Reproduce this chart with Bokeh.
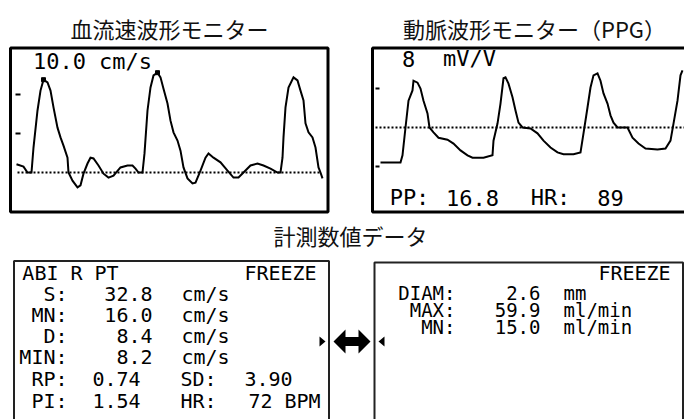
from bokeh.plotting import figure
from bokeh.models import Range1d, ColumnDataSource
from bokeh.core.properties import value
from bokeh.embed import file_html
from bokeh.resources import INLINE

# ---------------- data ----------------
flow_title = "血流速波形モニター"
ppg_title = "動脈波形モニター（PPG）"
data_title = "計測数値データ"

flow_scale = "10.0 cm/s"
# blood-flow velocity waveform: sample index, velocity (cm/s)
flow_t = [6, 13, 17, 21, 23, 27, 30, 33, 37, 40,
          43, 47, 50, 53, 57, 58, 62, 67, 70, 73,
          77, 80, 83, 88, 93, 98, 103, 110, 117, 122,
          125, 128, 132, 134, 137, 140, 143, 147, 150, 153,
          157, 160, 163, 167, 170, 173, 177, 182, 185, 190,
          195, 198, 203, 210, 217, 223, 228, 233, 240, 247,
          253, 260, 267, 270, 272, 273, 275, 278, 283, 287,
          290, 293, 295, 298, 302, 305, 308, 310, 312]
flow_v = [2.1, 1.5, 0, 0, 6.4, 15.9, 21.0, 23.8, 23.1, 21.0,
          16.7, 11.5, 9.0, 6.9, 3.8, 0.0, -2.1, -3.8, -3.3, -0.3,
          2.3, 3.8, 3.6, 1.8, -0.3, -1.3, -0.8, 1.3, 1.8, 1.8,
          1.0, 0, 0, 4.9, 15.9, 21.8, 24.9, 25.6, 24.4, 21.5,
          17.7, 13.3, 10.3, 8.2, 5.6, 1.3, -1.5, -2.8, -2.6, 0.5,
          3.8, 4.9, 3.8, 2.6, 0.5, -1.3, -1.3, 0, 1.8, 2.3,
          1.8, 1.0, 0, 0, 3.8, 9.0, 16.7, 21.8, 24.4, 23.6,
          21.0, 18.5, 12.6, 10.3, 9.0, 6.4, 1.3, 0, -1.5]
flow_ticks = [10, 20]
flow_peak_t = [33, 147]
flow_peak_v = [23.8, 25.6]

ppg_scale_num = "8"
ppg_scale_unit = "mV/V"
# PPG waveform: sample index, amplitude (mV/V)
ppg_t = [8, 28, 30, 33, 36, 40, 41, 45, 48, 51,
         55, 57, 61, 66, 75, 81, 88, 95, 100, 111,
         120, 121, 125, 128, 131, 133, 136, 140, 143, 146,
         150, 158, 165, 171, 178, 185, 191, 201, 208, 211,
         215, 218, 221, 225, 228, 231, 235, 238, 241, 245,
         255, 260, 266, 273, 285, 293, 298, 301, 305, 308,
         310]
ppg_v = [-7.2, -7.2, -5.7, 0, 5.5, 7.6, 9.6, 9.2, 8.0, 5.5,
         2.9, 0, -1.0, -2.1, -2.5, -3.3, -4.7, -5.7, -6.2, -6.2,
         -5.7, -2.7, 0.8, 4.9, 10.1, 10.3, 9.0, 6.2, 3.5, 1.0,
         0, -0.2, -1.2, -2.7, -4.1, -5.1, -5.5, -5.5, -5.1, -1.2,
         4.1, 8.2, 10.7, 11.1, 9.6, 7.0, 4.9, 2.5, 1.0, 0,
         0, -2.1, -3.3, -4.3, -4.5, -4.3, -2.7, 0.8, 5.5, 10.7,
         11.7]
ppg_ticks = [8, -8]
ppg_labels = ["PP:", "HR:"]
ppg_values = ["16.8", "89"]

abi_header = "ABI R PT"
freeze_text = "FREEZE"
vel_labels = ["S:", "MN:", "D:", "MIN:"]
vel_values = ["32.8", "16.0", "8.4", "8.2"]
vel_units = ["cm/s", "cm/s", "cm/s", "cm/s"]
idx_labels_a = ["RP:", "PI:"]
idx_values_a = ["0.74", "1.54"]
idx_labels_b = ["SD:", "HR:"]
idx_values_b = ["3.90", "72 BPM"]

vol_labels = ["DIAM:", "MAX:", "MN:"]
vol_values = ["2.6", "59.9", "15.0"]
vol_units = ["mm", "ml/min", "ml/min"]

# ---------------- layout / styles ----------------
PAGE_X0, PAGE_X1 = 0, 684
PAGE_Y0, PAGE_Y1 = 0, 419
JP = "Noto Sans CJK JP"
MONO = "DejaVu Sans Mono"
INK = "#000000"

p = figure(width=PAGE_X1 - PAGE_X0, height=PAGE_Y1 - PAGE_Y0,
           x_range=Range1d(PAGE_X0, PAGE_X1), y_range=Range1d(PAGE_Y1, PAGE_Y0),
           x_axis_type=None, y_axis_type=None, output_backend="svg",
           toolbar_location=None, min_border=0)
p.min_border_left = p.min_border_right = p.min_border_top = p.min_border_bottom = 0
p.grid.visible = False
p.outline_line_color = None
p.background_fill_color = "white"
p.border_fill_color = "white"


def panel_range(px_a, px_b, d_a, d_b, frame_start, frame_end):
    k = (d_b - d_a) / (px_b - px_a)
    return Range1d(start=d_a + (frame_start - px_a) * k, end=d_a + (frame_end - px_a) * k)


# panel scales (1 px per sample; 10 cm/s and 8 mV/V per 39 px division)
p.extra_x_ranges = {
    "flow_t": panel_range(10, 327, 0, 317, PAGE_X0, PAGE_X1),
    "ppg_t": panel_range(372, 672, 0, 300, PAGE_X0, PAGE_X1),
}
p.extra_y_ranges = {
    "flow_v": panel_range(172, 133, 0, 10, PAGE_Y1, PAGE_Y0),
    "ppg_v": panel_range(127, 88, 0, 8, PAGE_Y1, PAGE_Y0),
}


def txt(xs, ys, texts, font, size, align="left", color=INK):
    src = ColumnDataSource(dict(x=xs, y=ys, text=texts))
    p.text(x="x", y="y", text="text", source=src, text_font=value(font),
           text_font_size=size, text_align=align, text_baseline="middle",
           text_color=color)


# titles
txt([169, 534, 350], [27, 27, 234], [flow_title, ppg_title, data_title], JP, "22px", "center", "#111111")

# panel boxes
p.quad(left=[10, 372], right=[327.5, 700], top=[47.5, 47.5], bottom=[211.5, 211.5],
       fill_color=None, line_color=INK, line_width=3)
p.quad(left=[13.5, 374], right=[328.5, 682.5], top=[260.5, 262], bottom=[440, 440],
       fill_color=None, line_color="#222222", line_width=2)

# baselines (v = 0)
p.line(x=[17, 321], y=[0, 0], y_range_name="flow_v", line_color=INK, line_width=2, line_dash="2 2")
p.line(x=[375, 684], y=[0, 0], y_range_name="ppg_v", line_color=INK, line_width=2, line_dash="2 2")

# division ticks
p.segment(x0=[15] * len(flow_ticks), x1=[20] * len(flow_ticks), y0=flow_ticks, y1=flow_ticks,
          y_range_name="flow_v", line_color=INK, line_width=2)
p.segment(x0=[375] * len(ppg_ticks), x1=[379] * len(ppg_ticks), y0=ppg_ticks, y1=ppg_ticks,
          y_range_name="ppg_v", line_color=INK, line_width=2)

# waveforms
p.line(x=flow_t, y=flow_v, x_range_name="flow_t", y_range_name="flow_v",
       line_color=INK, line_width=2, line_join="miter")
p.scatter(x=flow_peak_t, y=flow_peak_v, x_range_name="flow_t", y_range_name="flow_v",
          marker="square", size=4, color=INK)
p.line(x=ppg_t, y=ppg_v, x_range_name="ppg_t", y_range_name="ppg_v",
       line_color=INK, line_width=2, line_join="miter")

# waveform panel texts
txt([92], [61], [flow_scale], MONO, "22px", "center")
txt([408, 469], [58, 58], [ppg_scale_num, ppg_scale_unit], MONO, "22px", "center")
txt([409, 472, 550, 610], [197] * 4,
    [ppg_labels[0], ppg_values[0], ppg_labels[1], ppg_values[1]], MONO, "22px", "center")

# lower-left data panel
rows = [293, 314, 335, 356]
txt([70], [272], [abi_header], MONO, "20px", "center")
txt([280], [272], [freeze_text], MONO, "20px", "center")
txt([67] * 4, rows, vel_labels, MONO, "20px", "right")
txt([152] * 4, rows, vel_values, MONO, "20px", "right")
txt([205] * 4, rows, vel_units, MONO, "20px", "center")
rows2 = [378, 400]
txt([67, 67], rows2, idx_labels_a, MONO, "20px", "right")
txt([116, 116], rows2, idx_values_a, MONO, "20px", "center")
txt([198, 198], rows2, idx_labels_b, MONO, "20px", "center")
txt([268, 284], rows2, idx_values_b, MONO, "20px", "center")

# lower-right data panel
rows3 = [292, 309, 326]
txt([634], [272], [freeze_text], MONO, "20px", "center")
txt([455] * 3, rows3, vol_labels, MONO, "19px", "right")
txt([540] * 3, rows3, vol_values, MONO, "19px", "right")
txt([563] * 3, rows3, vol_units, MONO, "19px", "left")

# link arrow and small pointers
p.patch(x=[333, 345, 345, 358, 358, 370, 358, 358, 345, 345],
        y=[341, 329, 336.5, 336.5, 329, 341, 353, 345.5, 345.5, 353],
        color=INK, line_width=0)
p.patches(xs=[[319, 319, 325], [384, 384, 378]], ys=[[336, 346, 341], [336, 346, 341]],
          color=INK, line_width=0)

open("out.html", "w").write(file_html(p, INLINE))
